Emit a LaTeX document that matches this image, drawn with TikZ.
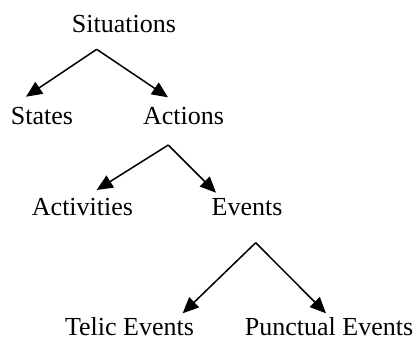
\documentclass[tikz,border=0pt]{standalone}
\usepackage{fontspec}
\setmainfont{Liberation Serif}
\usetikzlibrary{arrows.meta}
\begin{document}
\begin{tikzpicture}[x=1pt,y=-1pt,
  lbl/.style={anchor=base,inner sep=0pt,font=\fontsize{26}{30}\selectfont},
  arr/.style={line width=1.5pt,-{Triangle[length=16pt,width=14pt]}}]
\useasboundingbox (0,0) rectangle (419,341);
\node[lbl] (sit) at (124,32.5) {Situations};
\node[lbl] (sta) at (42,124) {States};
\node[lbl] (act) at (183.5,124) {Actions};
\node[lbl] (acv) at (82.5,215) {Activities};
\node[lbl] (ev) at (247,215) {Events};
\node[lbl] (tel) at (129.5,335.5) {Telic Events};
\node[lbl] (pun) at (329,335.5) {Punctual Events};
\coordinate (a1) at (96.7,49.3);
\coordinate (t1l) at (26,96.7);
\coordinate (t1r) at (168,97.3);
\coordinate (a2) at (168.3,145);
\coordinate (t2l) at (96.7,190);
\coordinate (t2r) at (216,192.7);
\coordinate (a3) at (255.7,242.7);
\coordinate (t3l) at (182.7,313.3);
\coordinate (t3r) at (326,313.3);
\draw[arr] (a1) -- (t1l);
\draw[arr] (a1) -- (t1r);
\draw[arr] (a2) -- (t2l);
\draw[arr] (a2) -- (t2r);
\draw[arr] (a3) -- (t3l);
\draw[arr] (a3) -- (t3r);
\end{tikzpicture}
\end{document}
